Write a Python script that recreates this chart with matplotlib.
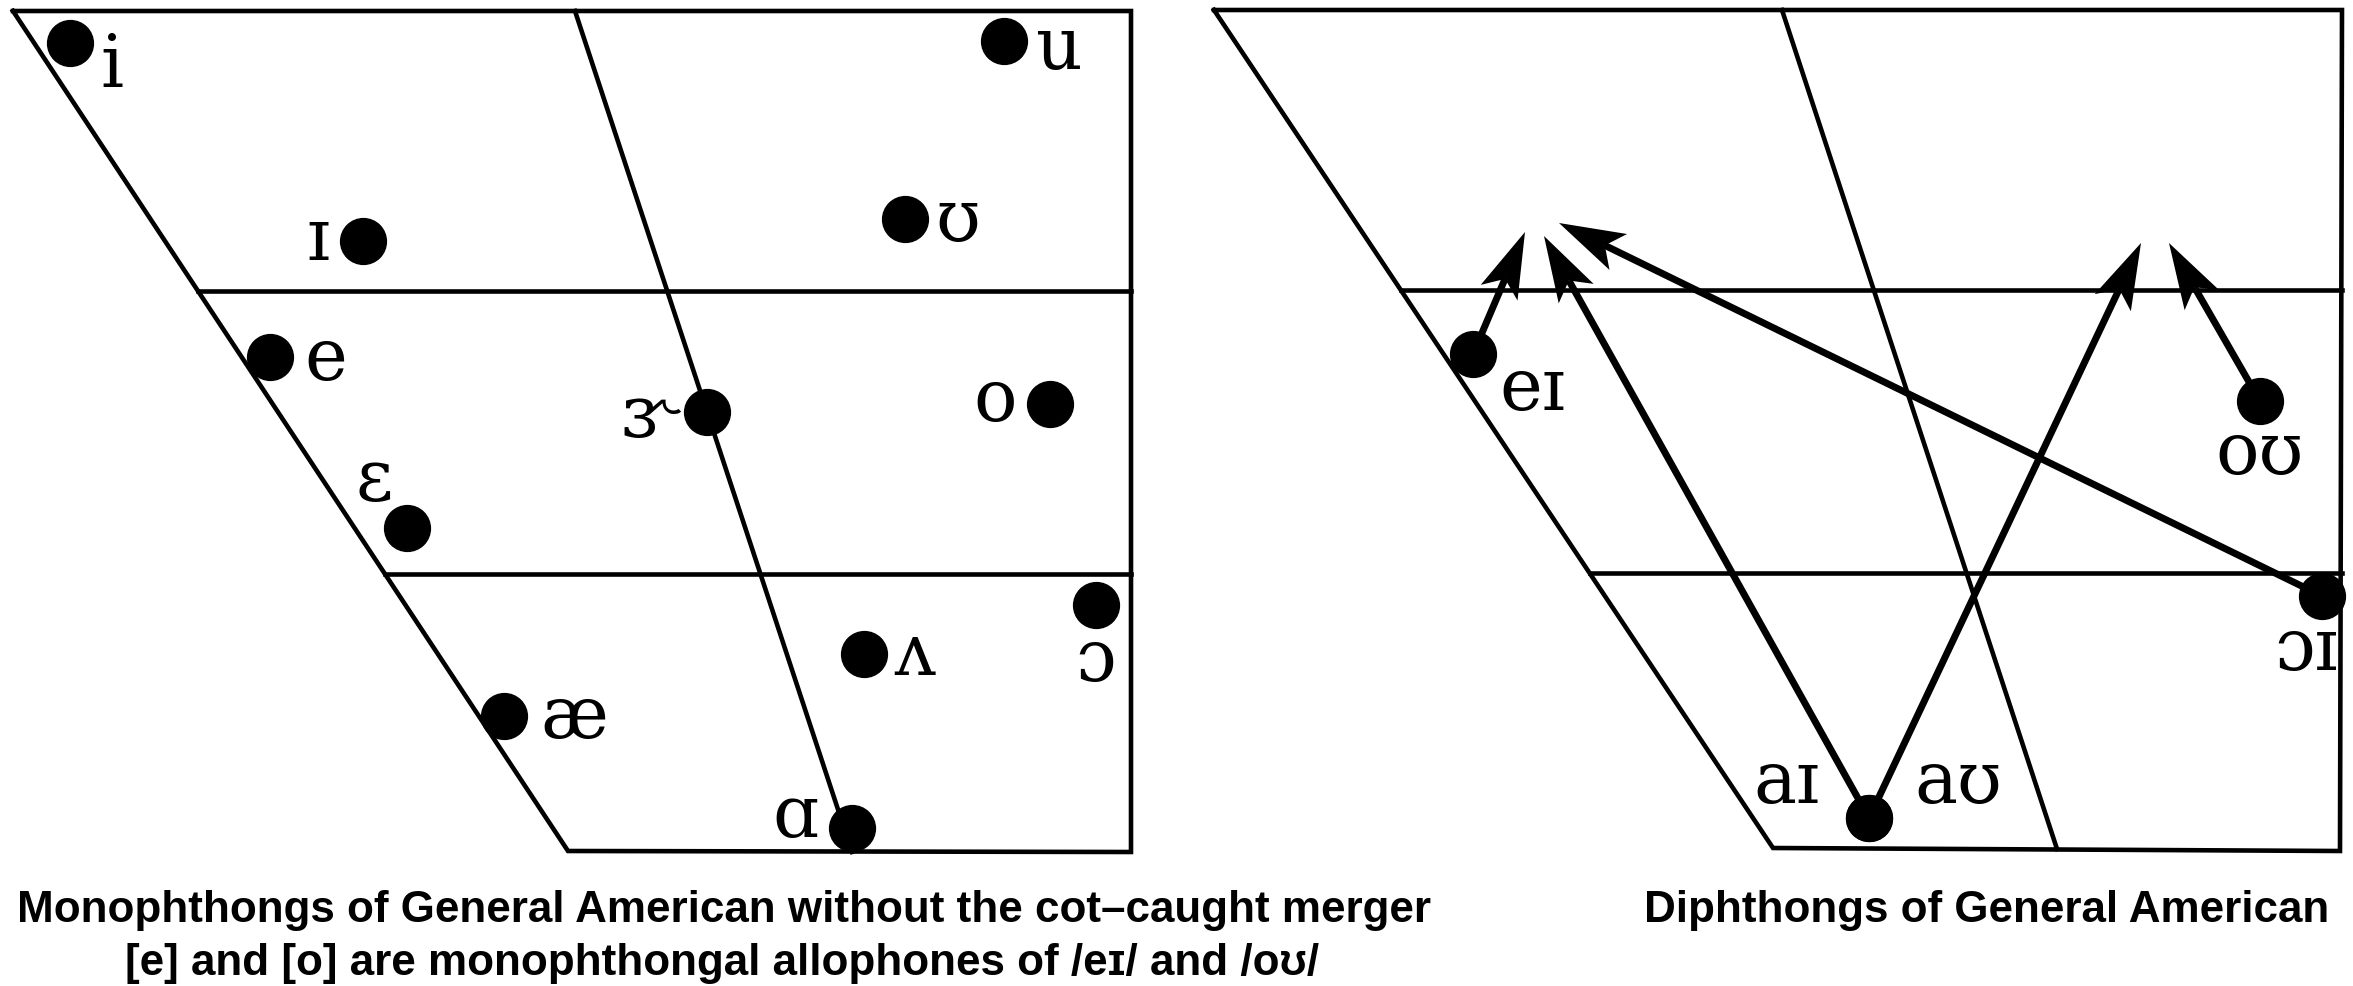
import numpy as np
import matplotlib.pyplot as plt
from matplotlib.patches import Polygon

# 画布按像素坐标画 (y 向下)
W, H = 2353, 986

# 单元音图: 梯形四角, 两条横线, 中间斜线
mono_frame_x = [13, 1131, 1131, 568]
mono_frame_y = [11, 11, 852, 851]
mono_rows = [291, 574]
mono_mid_x = [575, 852]
mono_mid_y = [11, 852]

# 单元音: 符号, 圆点位置, 标签位置 (中心 x, 基线 y)
mono_symbols = ['i', 'u', 'ɪ', 'ʊ', 'e', 'ɝ', 'o', 'ɛ', 'ʌ', 'ɔ', 'æ', 'ɑ']
mono_x = [70, 1004, 363, 905, 270, 707, 1050, 407, 864, 1096, 504, 852]
mono_y = [43, 41, 241, 219, 357, 412, 404, 528, 654, 605, 716, 828]
mono_label_x = [112, 1059, 318, 958, 326, 648, 995, 374, 915, 1096, 574, 795]
mono_label_y = [87, 69, 260, 241, 380, 437, 421, 501, 675, 681, 738, 837]

# 双元音图
diph_frame_x = [1214, 2342, 2340, 1773]
diph_frame_y = [10, 10, 851, 848]
diph_rows = [290, 573]
diph_mid_x = [1782, 2057]
diph_mid_y = [10, 849]

# 双元音: 起点圆点和箭头终点
diph_symbols = ['eɪ', 'aɪ', 'ɔɪ', 'aʊ', 'oʊ']
diph_x0 = [1473, 1869, 2322, 1869, 2260]
diph_y0 = [354, 818, 596, 818, 401]
diph_x1 = [1525, 1544, 1559, 2141, 2169]
diph_y1 = [232, 236, 223, 243, 243]
diph_label_x = [1532, 1786, 2306, 1958, 2260]
diph_label_y = [410, 803, 670, 803, 474]

# 标题: (中心 x, 基线 y, 文字)
captions = [
    (724, 922, 'Monophthongs of General American without the cot–caught merger'),
    (722, 975, '[e] and [o] are monophthongal allophones of /eɪ/ and /oʊ/'),
    (1987, 922, 'Diphthongs of General American'),
]

LW = 3.3
DOT = 33
IPA_FONT = dict(family='DejaVu Serif', fontsize=52)


def draw_frame(ax, fx, fy, rows, mx, my):
    ax.plot(fx + fx[:1], fy + fy[:1], color='black', lw=LW,
            solid_joinstyle='miter', zorder=1)
    # 横线从左斜边开始
    for r in rows:
        t = (r - fy[0]) / (fy[3] - fy[0])
        xl = fx[0] + t * (fx[3] - fx[0])
        ax.plot([xl, fx[1]], [r, r], color='black', lw=LW, zorder=1)
    ax.plot(mx, my, color='black', lw=LW, zorder=1)


def draw_arrow(ax, x0, y0, x1, y1, head_len=66, head_w=40, notch=15):
    d = np.array([x1 - x0, y1 - y0], dtype=float)
    d /= np.linalg.norm(d)
    n = np.array([-d[1], d[0]])
    tip = np.array([x1, y1], dtype=float)
    back = tip - head_len * d
    inner = tip - (head_len - notch) * d
    ax.plot([x0, inner[0]], [y0, inner[1]], color='black', lw=5,
            solid_capstyle='butt', zorder=2)
    head = [tip, back + head_w / 2 * n, inner, back - head_w / 2 * n]
    ax.add_patch(Polygon(head, closed=True, color='black', lw=0, zorder=3))


fig = plt.figure(figsize=(W / 100, H / 100), dpi=100)
ax = fig.add_axes([0, 0, 1, 1])
ax.set_xlim(0, W)
ax.set_ylim(H, 0)
ax.axis('off')

# 左图: 单元音
draw_frame(ax, mono_frame_x, mono_frame_y, mono_rows, mono_mid_x, mono_mid_y)
ax.plot(mono_x, mono_y, 'o', color='black', ms=DOT, zorder=4)
for s, lx, ly in zip(mono_symbols, mono_label_x, mono_label_y):
    ax.text(lx, ly, s, ha='center', va='baseline', **IPA_FONT)

# 右图: 双元音
draw_frame(ax, diph_frame_x, diph_frame_y, diph_rows, diph_mid_x, diph_mid_y)
for x0, y0, x1, y1 in zip(diph_x0, diph_y0, diph_x1, diph_y1):
    draw_arrow(ax, x0, y0, x1, y1)
ax.plot(diph_x0, diph_y0, 'o', color='black', ms=DOT, zorder=4)
for s, lx, ly in zip(diph_symbols, diph_label_x, diph_label_y):
    ax.text(lx, ly, s, ha='center', va='baseline', **IPA_FONT)

# 标题
for cx, cy, txt in captions:
    ax.text(cx, cy, txt, ha='center', va='baseline', fontsize=31.7,
            fontweight='bold', family=['Liberation Sans', 'DejaVu Sans'])

fig.savefig('out.png', dpi=100)
